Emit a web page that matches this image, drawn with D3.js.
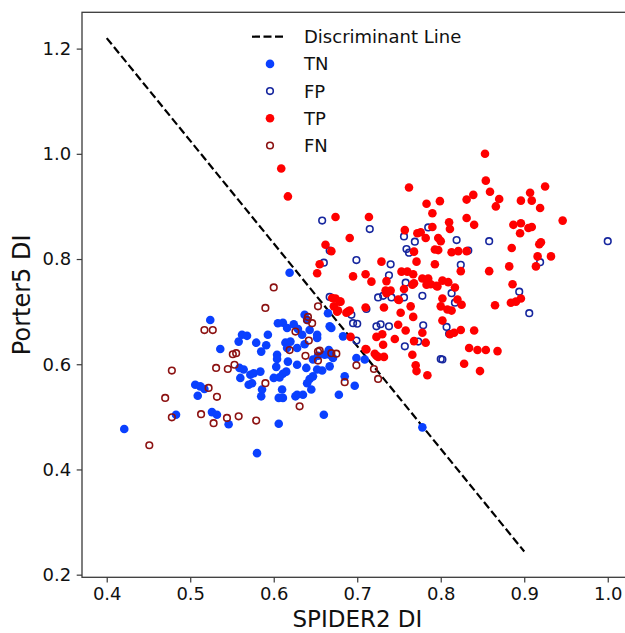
<!DOCTYPE html>
<html>
<head>
<meta charset="utf-8">
<script src="https://cdn.jsdelivr.net/npm/d3@7/dist/d3.min.js"></script>
<style>
  body { margin: 0; background: #fff; }
  #root { width: 625px; height: 633px; }
  text { font-family: "DejaVu Sans", sans-serif; fill: #111; }
</style>
</head>
<body>
<div id="root"></div>
<script>
// discriminant line end points
var lineX = [0.4, 0.9]
var lineY = [1.22, 0.244]

// TN: filled blue
var tn = [[0.421,0.477],[0.580,0.431],[0.483,0.504],[0.546,0.486],[0.606,0.487],[0.660,0.504],[0.778,0.480],[0.619,0.774],
  [0.524,0.684],[0.536,0.629],[0.562,0.656],[0.568,0.654],[0.558,0.643],[0.579,0.641],[0.593,0.656],[0.591,0.636],
  [0.585,0.624],[0.605,0.678],[0.611,0.679],[0.616,0.669],[0.624,0.676],[0.629,0.667],[0.637,0.694],[0.640,0.684],
  [0.634,0.656],[0.643,0.665],[0.614,0.641],[0.620,0.643],[0.616,0.631],[0.628,0.631],[0.637,0.638],[0.652,0.650],
  [0.665,0.697],[0.667,0.672],[0.669,0.669],[0.683,0.653],[0.604,0.618],[0.604,0.610],[0.603,0.595],[0.617,0.605],
  [0.628,0.599],[0.639,0.593],[0.647,0.609],[0.653,0.616],[0.661,0.618],[0.667,0.618],[0.671,0.612],[0.667,0.596],
  [0.658,0.588],[0.652,0.590],[0.647,0.577],[0.643,0.572],[0.640,0.564],[0.645,0.552],[0.628,0.542],[0.635,0.542],
  [0.615,0.586],[0.611,0.582],[0.607,0.575],[0.600,0.574],[0.610,0.552],[0.606,0.536],[0.611,0.536],[0.626,0.539],
  [0.586,0.552],[0.585,0.539],[0.572,0.580],[0.576,0.583],[0.584,0.586],[0.570,0.561],[0.574,0.564],[0.560,0.574],
  [0.559,0.593],[0.564,0.590],[0.506,0.561],[0.512,0.558],[0.517,0.553],[0.509,0.540],[0.526,0.509],[0.532,0.504],
  [0.678,0.542],[0.685,0.577],[0.699,0.612],[0.709,0.609],[0.697,0.559],[0.666,0.627],[0.652,0.656]]

// FP: open navy
var fp = [[0.658,0.873],[0.715,0.857],[0.667,0.816],[0.660,0.793],[0.699,0.798],[0.740,0.790],[0.738,0.769],[0.758,0.755],
  [0.756,0.843],[0.759,0.819],[0.762,0.812],[0.769,0.833],[0.785,0.860],[0.819,0.836],[0.833,0.816],[0.824,0.789],
  [0.858,0.834],[1.000,0.834],[0.919,0.794],[0.894,0.738],[0.906,0.697],[0.813,0.735],[0.817,0.717],[0.667,0.728],
  [0.693,0.694],[0.695,0.678],[0.700,0.677],[0.711,0.705],[0.725,0.727],[0.731,0.730],[0.741,0.727],[0.756,0.727],
  [0.778,0.730],[0.723,0.672],[0.728,0.676],[0.738,0.672],[0.779,0.674],[0.807,0.671],[0.810,0.658],[0.699,0.645],
  [0.773,0.643],[0.757,0.634],[0.800,0.610],[0.802,0.609]]

// TP: filled red
var tp = [[0.609,0.972],[0.617,0.919],[0.674,0.880],[0.714,0.880],[0.691,0.840],[0.662,0.827],[0.669,0.815],[0.655,0.790],
  [0.652,0.773],[0.695,0.767],[0.710,0.771],[0.717,0.757],[0.729,0.795],[0.735,0.758],[0.734,0.740],[0.740,0.740],
  [0.749,0.723],[0.756,0.743],[0.753,0.776],[0.760,0.776],[0.767,0.771],[0.771,0.795],[0.768,0.814],[0.757,0.855],
  [0.772,0.849],[0.762,0.936],[0.783,0.905],[0.790,0.887],[0.776,0.851],[0.782,0.840],[0.790,0.861],[0.799,0.910],
  [0.797,0.840],[0.800,0.834],[0.793,0.818],[0.797,0.817],[0.793,0.790],[0.810,0.870],[0.811,0.857],[0.831,0.913],
  [0.831,0.878],[0.839,0.922],[0.840,0.865],[0.813,0.813],[0.821,0.815],[0.831,0.815],[0.824,0.777],[0.853,1.000],
  [0.854,0.949],[0.859,0.928],[0.870,0.914],[0.866,0.900],[0.887,0.865],[0.896,0.868],[0.895,0.849],[0.896,0.911],
  [0.907,0.926],[0.909,0.911],[0.905,0.859],[0.909,0.861],[0.919,0.897],[0.925,0.938],[0.946,0.873],[0.885,0.821],
  [0.918,0.828],[0.920,0.832],[0.916,0.805],[0.932,0.805],[0.914,0.786],[0.882,0.786],[0.886,0.752],[0.858,0.777],
  [0.884,0.717],[0.890,0.719],[0.896,0.725],[0.865,0.712],[0.840,0.664],[0.834,0.631],[0.844,0.627],[0.854,0.627],
  [0.868,0.625],[0.828,0.601],[0.847,0.587],[0.784,0.579],[0.770,0.598],[0.771,0.587],[0.766,0.618],[0.768,0.644],
  [0.782,0.641],[0.778,0.660],[0.758,0.664],[0.749,0.675],[0.752,0.698],[0.764,0.710],[0.767,0.690],[0.768,0.754],
  [0.778,0.763],[0.785,0.763],[0.788,0.752],[0.796,0.748],[0.802,0.759],[0.809,0.756],[0.817,0.746],[0.802,0.725],
  [0.800,0.710],[0.808,0.704],[0.813,0.702],[0.820,0.723],[0.825,0.713],[0.802,0.683],[0.811,0.657],[0.816,0.660],
  [0.824,0.665],[0.745,0.648],[0.730,0.657],[0.723,0.652],[0.731,0.637],[0.732,0.614],[0.725,0.614],[0.721,0.620],
  [0.710,0.629],[0.732,0.708],[0.710,0.708],[0.691,0.702],[0.687,0.698],[0.680,0.719],[0.674,0.725],[0.670,0.726],
  [0.672,0.710],[0.677,0.702],[0.692,0.652],[0.783,0.751],[0.795,0.749],[0.735,0.735],[0.750,0.722],[0.766,0.751],
  [0.679,0.719],[0.676,0.700],[0.689,0.700],[0.711,0.628],[0.723,0.616]]

// FN: open dark red
var fn = [[0.600,0.746],[0.590,0.707],[0.517,0.665],[0.527,0.665],[0.653,0.710],[0.641,0.690],[0.640,0.684],[0.646,0.678],
  [0.626,0.662],[0.642,0.645],[0.619,0.627],[0.638,0.616],[0.653,0.624],[0.655,0.626],[0.653,0.607],[0.669,0.621],
  [0.675,0.620],[0.551,0.619],[0.555,0.621],[0.553,0.599],[0.545,0.591],[0.531,0.593],[0.478,0.588],[0.522,0.555],
  [0.532,0.538],[0.470,0.536],[0.590,0.564],[0.685,0.566],[0.631,0.520],[0.478,0.499],[0.513,0.505],[0.528,0.488],
  [0.544,0.498],[0.558,0.501],[0.579,0.493],[0.451,0.446],[0.699,0.598],[0.720,0.591],[0.725,0.572]]

var xTicks = [0.4, 0.5, 0.6, 0.7, 0.8, 0.9, 1.0]
var yTicks = [0.2, 0.4, 0.6, 0.8, 1.0, 1.2]
var legendLabels = ["Discriminant Line", "TN", "FP", "TP", "FN"]

function scatterChart(){
  var width = 625, height = 633
  var margin = ({ top: 12.3, left: 82, bottom: 55.7 })
  var plotRight = 632.8   // right spine falls just outside the picture

  var x = d3.scaleLinear()
      .domain([0.3704, 1.03])
      .range([margin.left, plotRight])
  var y = d3.scaleLinear()
      .domain([0.195, 1.269])
      .range([height - margin.bottom, margin.top])

  var svg = d3.select("#root")
    .append("svg")
    .attr("width", width)
    .attr("height", height)

  // frame
  svg.append("rect")
    .attr("x", margin.left)
    .attr("y", margin.top)
    .attr("width", plotRight - margin.left)
    .attr("height", height - margin.bottom - margin.top)
    .attr("fill", "none")
    .attr("stroke", "#3a3a3a")
    .attr("stroke-width", 1.3)

  // axes
  svg.append("g")
    .attr("transform", "translate(0," + (height - margin.bottom) + ")")
    .call(d3.axisBottom(x).tickValues(xTicks).tickFormat(d3.format(".1f")).tickSize(5.3).tickPadding(5))
  svg.append("g")
    .attr("transform", "translate(" + margin.left + ",0)")
    .call(d3.axisLeft(y).tickValues(yTicks).tickFormat(d3.format(".1f")).tickSize(5.3).tickPadding(5.5))
  svg.selectAll(".domain").remove()
  svg.selectAll(".tick line").attr("stroke", "#3a3a3a").attr("stroke-width", 1.2)
  svg.selectAll(".tick text")
    .style("font-family", "DejaVu Sans")
    .style("font-size", "18px")
    .attr("fill", "#111")

  // axis titles
  svg.append("text")
    .attr("x", (margin.left + plotRight) / 2)
    .attr("y", 627)
    .attr("text-anchor", "middle")
    .style("font-size", "23px")
    .text("SPIDER2 DI")
  svg.append("text")
    .attr("transform", "translate(30," + ((margin.top + height - margin.bottom) / 2) + ") rotate(-90)")
    .attr("text-anchor", "middle")
    .style("font-size", "24px")
    .text("Porter5 DI")

  // discriminant line
  var line = d3.line()
    .x(function(d) { return x(d[0]) })
    .y(function(d) { return y(d[1]) })
  svg.append("path")
    .datum(d3.zip(lineX, lineY))
    .attr("d", line)
    .attr("fill", "none")
    .attr("stroke", "#000")
    .attr("stroke-width", 2.2)
    .attr("stroke-dasharray", "8,3.5")

  var groups = [
    { data: tn, fill: "#0a40ff", stroke: "none" },
    { data: fp, fill: "none", stroke: "#16269e" },
    { data: tp, fill: "#ff0000", stroke: "none" },
    { data: fn, fill: "none", stroke: "#8c1212" }
  ]

  groups.forEach(function(gr){
    svg.append("g")
      .selectAll("circle")
      .data(gr.data)
      .enter().append("circle")
      .attr("cx", function(d) { return x(d[0]) })
      .attr("cy", function(d) { return y(d[1]) })
      .attr("r", gr.fill === "none" ? 3.3 : 4.3)
      .attr("fill", gr.fill)
      .attr("stroke", gr.stroke)
      .attr("stroke-width", 1.6)
  })

  // legend
  var legend = svg.append("g").attr("transform", "translate(252,36.7)")
  var rowH = 27.2
  legend.append("line")
    .attr("x1", 0).attr("x2", 34)
    .attr("y1", 0).attr("y2", 0)
    .attr("stroke", "#000")
    .attr("stroke-width", 2.2)
    .attr("stroke-dasharray", "8,3.5")
  groups.forEach(function(gr, i){
    legend.append("circle")
      .attr("cx", 18)
      .attr("cy", (i + 1) * rowH)
      .attr("r", gr.fill === "none" ? 3.3 : 4.3)
      .attr("fill", gr.fill)
      .attr("stroke", gr.stroke)
      .attr("stroke-width", 1.6)
  })
  legend.selectAll("text.leg")
    .data(legendLabels)
    .enter().append("text")
    .attr("class", "leg")
    .attr("x", 52)
    .attr("y", function(d, i) { return i * rowH + 6.6 })
    .style("font-size", "18px")
    .text(function(d) { return d })
}
scatterChart()
</script>
</body>
</html>
